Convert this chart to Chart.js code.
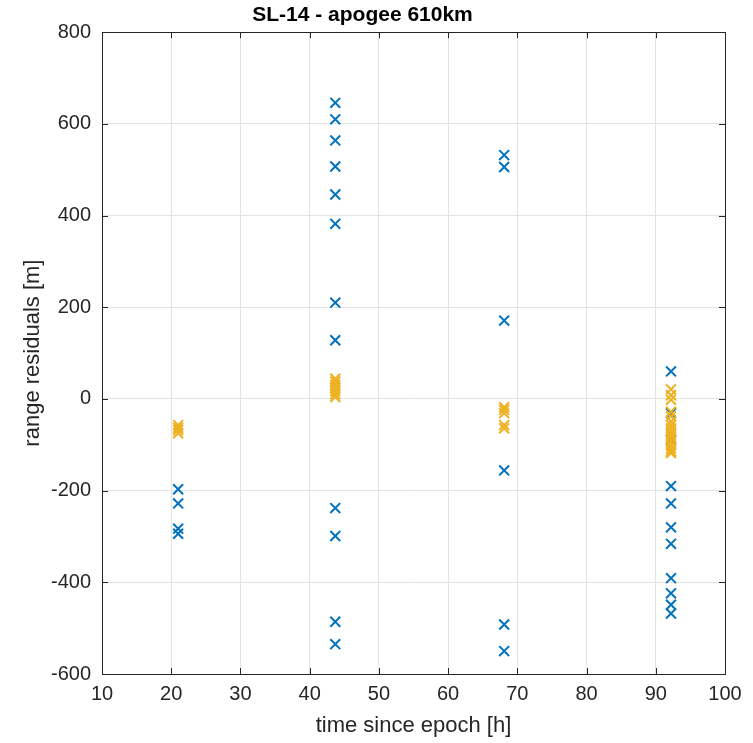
<!DOCTYPE html>
<html>
<head>
<meta charset="utf-8">
<script src="https://cdn.jsdelivr.net/npm/chart.js@4"></script>
<style>
  html, body { margin: 0; padding: 0; background: #fff; }
  #wrap { width: 753px; height: 743px; }
</style>
</head>
<body>
<div id="wrap"><canvas id="residualChart"></canvas></div>
<script>
// pass times [h] and residuals [m] per pass
const passTimes = [21, 43.7, 68.1, 92.2];
const blueResiduals = [
  [-197, -228, -283, -294],
  [646, 610, 564, 507, 446, 382, 210, 128, -238, -299, -486, -535],
  [532, 506, 171, -156, -492, -550],
  [60, -31, -89, -190, -228, -280, -316, -391, -424, -449, -468]
];
const orangeResiduals = [
  [-57, -63, -68, -75],
  [44, 38, 31, 24, 17, 10, 4],
  [-18, -24, -31, -57, -64],
  [21, 8, -2, -28, -38, -49, -57, -64, -72, -79, -86, -93, -101, -108, -114, -118]
];
const xTicks = [10, 20, 30, 40, 50, 60, 70, 80, 90, 100];
const yTicks = [-600, -400, -200, 0, 200, 400, 600, 800];

const toPoints = (groups) => {
  const pts = [];
  groups.forEach((vals, i) => vals.forEach(v => pts.push({ x: passTimes[i], y: v })));
  return pts;
};

const fontFamily = '"Liberation Sans", Arial, Helvetica, sans-serif';
const textColor = '#262626';

// box + inward ticks like MATLAB
const boxPlugin = {
  id: 'box',
  afterDraw(chart) {
    const { ctx, chartArea: a, scales } = chart;
    ctx.save();
    ctx.strokeStyle = '#262626';
    ctx.lineWidth = 1;
    ctx.beginPath();
    xTicks.forEach(t => {
      const px = Math.round(scales.x.getPixelForValue(t)) + 0.5;
      ctx.moveTo(px, a.bottom); ctx.lineTo(px, a.bottom - 6);
      ctx.moveTo(px, a.top); ctx.lineTo(px, a.top + 6);
    });
    yTicks.forEach(t => {
      const py = Math.round(scales.y.getPixelForValue(t)) + 0.5;
      ctx.moveTo(a.left, py); ctx.lineTo(a.left + 6, py);
      ctx.moveTo(a.right, py); ctx.lineTo(a.right - 6, py);
    });
    ctx.stroke();
    ctx.strokeRect(Math.round(a.left) + 0.5, Math.round(a.top) + 0.5,
      Math.round(a.right - a.left), Math.round(a.bottom - a.top));
    ctx.restore();
  }
};

new Chart(document.getElementById('residualChart'), {
  type: 'scatter',
  data: {
    datasets: [
      {
        label: 'rejected',
        data: toPoints(blueResiduals),
        pointStyle: 'crossRot',
        pointRadius: 7,
        pointBorderWidth: 2,
        borderColor: '#0072BD',
        backgroundColor: '#0072BD',
        order: 2
      },
      {
        label: 'accepted',
        data: toPoints(orangeResiduals),
        pointStyle: 'crossRot',
        pointRadius: 7,
        pointBorderWidth: 2,
        borderColor: '#EDB120',
        backgroundColor: '#EDB120',
        order: 1
      }
    ]
  },
  options: {
    responsive: true,
    maintainAspectRatio: false,
    animation: false,
    layout: { padding: { left: 0, right: 28, top: 0, bottom: 0 } },
    plugins: {
      legend: { display: false },
      tooltip: { enabled: false },
      title: {
        display: true,
        text: 'SL-14 - apogee 610km',
        color: '#000',
        font: { family: fontFamily, size: 21, weight: 'bold' },
        padding: { top: 3, bottom: 4 }
      }
    },
    scales: {
      x: {
        type: 'linear',
        min: 10,
        max: 100,
        afterBuildTicks: (s) => { s.ticks = xTicks.map(v => ({ value: v })); },
        afterFit: (s) => { s.height = 69; },
        grid: { color: '#e3e3e3', drawTicks: false },
        border: { display: false },
        ticks: { color: textColor, padding: 8, maxRotation: 0, font: { family: fontFamily, size: 20 } },
        title: {
          display: true,
          text: 'time since epoch [h]',
          color: textColor,
          font: { family: fontFamily, size: 22 },
          padding: { top: 0, bottom: 4 }
        }
      },
      y: {
        type: 'linear',
        min: -600,
        max: 800,
        afterBuildTicks: (s) => { s.ticks = yTicks.map(v => ({ value: v })); },
        afterFit: (s) => { s.width = 102; },
        grid: { color: '#e3e3e3', drawTicks: false },
        border: { display: false },
        ticks: { color: textColor, padding: 11, font: { family: fontFamily, size: 20 } },
        title: {
          display: true,
          text: 'range residuals [m]',
          color: textColor,
          font: { family: fontFamily, size: 22 },
          padding: { top: 20, bottom: 0 }
        }
      }
    }
  },
  plugins: [boxPlugin]
});
</script>
</body>
</html>
